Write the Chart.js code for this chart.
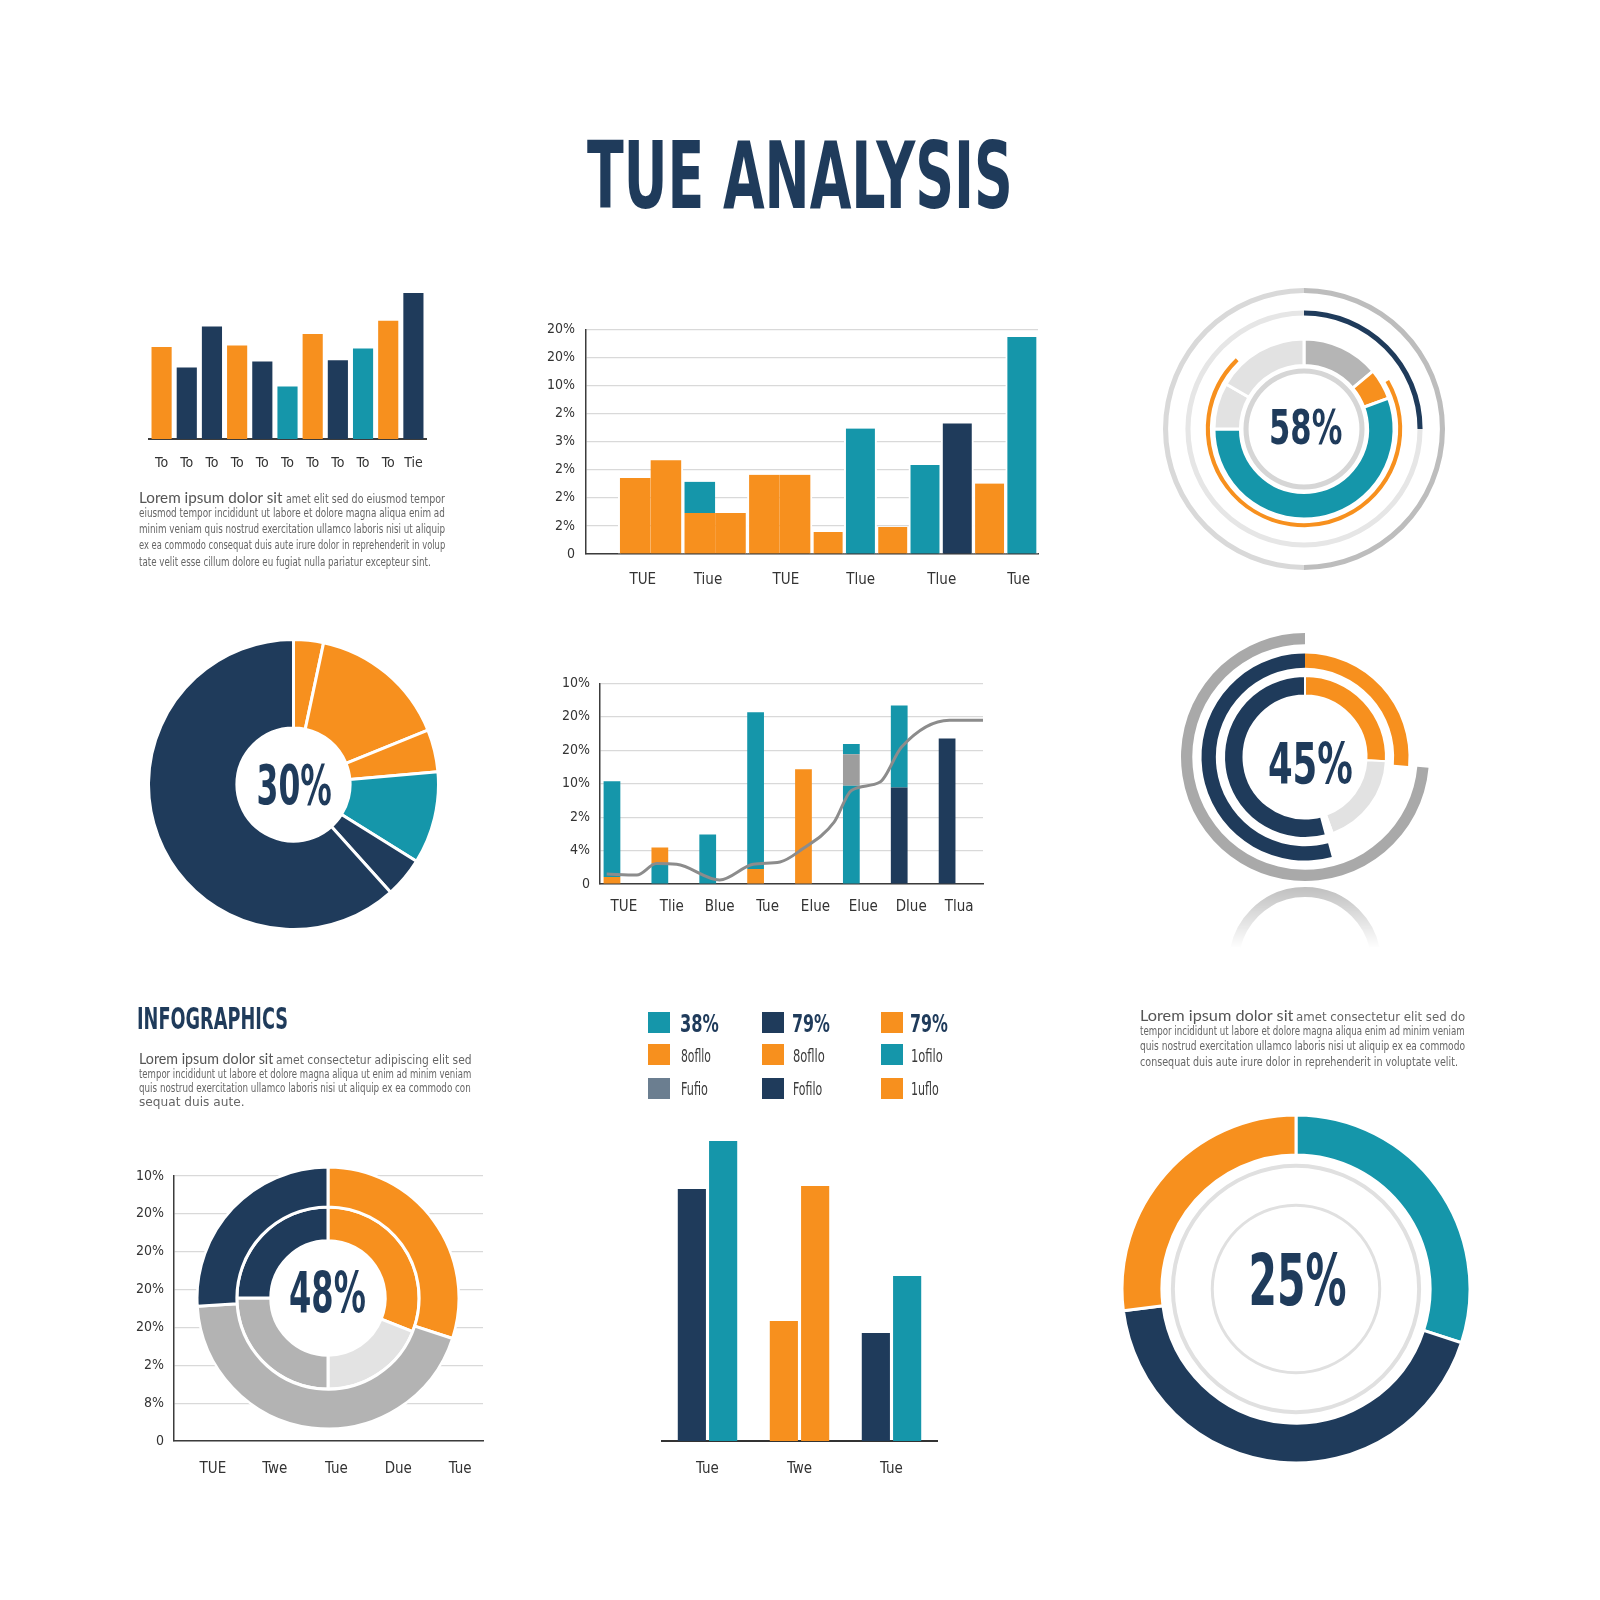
<!DOCTYPE html>
<html><head><meta charset="utf-8">
<script src="https://cdn.jsdelivr.net/npm/chart.js@4.4.1/dist/chart.umd.min.js"></script>
<style>
html,body{margin:0;padding:0;background:#fff;}
#page{position:relative;width:1600px;height:1600px;overflow:hidden;background:#fff;}
canvas{position:absolute;}
.t{position:absolute;white-space:nowrap;line-height:1;z-index:3;font-family:'Liberation Sans Narrow','DejaVu Sans Condensed',sans-serif;}
.big{font-weight:700;color:#1f3b5b;}
.para{color:#666;}
.lead{font-family:'Lato','Open Sans',sans-serif;color:#555;}
.leg{color:#3a3a3a;}
.sq{position:absolute;width:22px;height:21px;z-index:3;}
.refl{position:absolute;left:1200px;top:884px;width:210px;height:64px;overflow:hidden;
 -webkit-mask-image:linear-gradient(to bottom,rgba(0,0,0,.6),rgba(0,0,0,0));mask-image:linear-gradient(to bottom,rgba(0,0,0,.6),rgba(0,0,0,0));}
.refl div{position:absolute;left:29px;top:3px;width:132px;height:132px;border-radius:50%;border:10px solid #8f8f8f;}
</style></head>
<body><div id="page">
<div class="t big" data-cx="800" data-cy="176" data-fs="93" data-w="426">TUE ANALYSIS</div>

<div class="t lead" data-left="139" data-cy="497" data-fs="15" data-w="143">Lorem ipsum dolor sit</div>
<div class="t para" data-left="286" data-cy="498" data-fs="13" data-w="159">amet elit sed do eiusmod tempor</div>
<div class="t para" data-left="139" data-cy="512" data-fs="13" data-w="306">eiusmod tempor incididunt ut labore et dolore magna aliqua enim ad</div>
<div class="t para" data-left="139" data-cy="528" data-fs="13" data-w="306">minim veniam quis nostrud exercitation ullamco laboris nisi ut aliquip</div>
<div class="t para" data-left="139" data-cy="544" data-fs="13" data-w="306">ex ea commodo consequat duis aute irure dolor in reprehenderit in volup</div>
<div class="t para" data-left="139" data-cy="561" data-fs="13" data-w="292">tate velit esse cillum dolore eu fugiat nulla pariatur excepteur sint.</div>

<div class="t big" data-left="137" data-cy="1019" data-fs="30" data-w="151">INFOGRAPHICS</div>
<div class="t lead" data-left="139" data-cy="1058" data-fs="15" data-w="134">Lorem ipsum dolor sit</div>
<div class="t para" data-left="276" data-cy="1059" data-fs="13" data-w="196">amet consectetur adipiscing elit sed</div>
<div class="t para" data-left="139" data-cy="1073" data-fs="13" data-w="332">tempor incididunt ut labore et dolore magna aliqua ut enim ad minim veniam</div>
<div class="t para" data-left="139" data-cy="1087" data-fs="13" data-w="332">quis nostrud exercitation ullamco laboris nisi ut aliquip ex ea commodo con</div>
<div class="t para" data-left="139" data-cy="1101" data-fs="13" data-w="106">sequat duis aute.</div>

<div class="t lead" data-left="1140" data-cy="1015" data-fs="15" data-w="153">Lorem ipsum dolor sit</div>
<div class="t para" data-left="1296" data-cy="1016" data-fs="13" data-w="169">amet consectetur elit sed do</div>
<div class="t para" data-left="1140" data-cy="1030" data-fs="13" data-w="325">tempor incididunt ut labore et dolore magna aliqua enim ad minim veniam</div>
<div class="t para" data-left="1140" data-cy="1045" data-fs="13" data-w="325">quis nostrud exercitation ullamco laboris nisi ut aliquip ex ea commodo</div>
<div class="t para" data-left="1140" data-cy="1061" data-fs="13" data-w="318">consequat duis aute irure dolor in reprehenderit in voluptate velit.</div>

<div class="t big" data-cx="1305" data-cy="427" data-fs="48" data-w="73">58%</div>
<div class="t big" data-cx="294" data-cy="785" data-fs="55" data-w="75">30%</div>
<div class="t big" data-cx="1310" data-cy="764" data-fs="57" data-w="85">45%</div>
<div class="t big" data-cx="327" data-cy="1293" data-fs="57" data-w="77">48%</div>
<div class="t big" data-cx="1297" data-cy="1280" data-fs="71" data-w="98">25%</div>

<div class="sq" style="left:648px;top:1012px;background:#1596aa"></div>
<div class="sq" style="left:762px;top:1012px;background:#1f3b5b"></div>
<div class="sq" style="left:881px;top:1012px;background:#f7901e"></div>
<div class="sq" style="left:648px;top:1044px;background:#f7901e"></div>
<div class="sq" style="left:762px;top:1044px;background:#f7901e"></div>
<div class="sq" style="left:881px;top:1044px;background:#1596aa"></div>
<div class="sq" style="left:648px;top:1078px;background:#6b7e90"></div>
<div class="sq" style="left:762px;top:1078px;background:#1f3b5b"></div>
<div class="sq" style="left:881px;top:1078px;background:#f7901e"></div>
<div class="t big" data-left="680" data-cy="1023" data-fs="25" data-w="39">38%</div>
<div class="t big" data-left="792" data-cy="1023" data-fs="25" data-w="38">79%</div>
<div class="t big" data-left="910" data-cy="1023" data-fs="25" data-w="38">79%</div>
<div class="t leg" data-left="681" data-cy="1056" data-fs="18" data-w="30">8ofllo</div>
<div class="t leg" data-left="793" data-cy="1056" data-fs="18" data-w="32">8ofllo</div>
<div class="t leg" data-left="911" data-cy="1056" data-fs="18" data-w="32">1ofilo</div>
<div class="t leg" data-left="681" data-cy="1089" data-fs="18" data-w="27">Fufio</div>
<div class="t leg" data-left="793" data-cy="1089" data-fs="18" data-w="29">Fofilo</div>
<div class="t leg" data-left="911" data-cy="1089" data-fs="18" data-w="28">1uflo</div>

<div class="refl"><div></div></div>
</div>
<script>
// ---------- data ----------
const P1_LABELS = ['To','To','To','To','To','To','To','To','To','To','Tie'];
const P1_VALUES = [63,49,77,64,53,36,72,54,62,81,100];

const P2_SLOTS  = ['','1','2','3','4','5','6','7','8','9','10','11','12','13'];
const P2_ORANGE = [0,2.71,3.34,1.46,1.46,2.82,2.82,0.78,0,0.96,0,0,2.51,0];
const P2_TEAL   = [0,0,0,1.11,0,0,0,0,4.47,0,3.17,0,0,7.73];
const P2_NAVY   = [0,0,0,0,0,0,0,0,0,0,0,4.65,0,0];
const P2_Y_LABELS = ['0','2%','2%','2%','3%','2%','10%','20%','20%'];
const P2_X_LABELS = ['TUE','Tiue','TUE','Tlue','Tlue','Tue'];
const P2_X_POS    = [1.76,3.78,6.19,8.51,11.02,13.4];

const P3_OUTER  = [50,50];
const P3_NAVY   = [25,75];
const P3_ORANGE = [60,256,44];
const P3_SEG    = [50,20,200,30,60];
const P3_INNER  = [100];
const RING_GAP  = [1];

const P4_VALUES = [12,56,17,37,16,222];

const P5_LABELS = ['TUE','Tlie','Blue','Tue','Elue','Elue','Dlue','Tlua'];
const P5_Y_LABELS = ['0','4%','2%','10%','20%','20%','10%'];
const P5_ORANGE_BASE = [0.21,0,0,0.45,3.43,0,0,0];
const P5_TEAL_BASE   = [2.86,0.61,1.48,4.69,0,2.94,0,0];
const P5_NAVY_BASE   = [0,0,0,0,0,0,2.89,4.35];
const P5_ORANGE_TOP  = [0,0.48,0,0,0,0,0,0];
const P5_GRAY_MID    = [0,0,0,0,0,0.94,0,0];
const P5_TEAL_TOP    = [0,0,0,0,0,0.31,2.45,0];
const P5_LINE_X = [0.14,0.77,1.18,1.6,2.5,3.2,3.76,4.21,4.89,5.25,5.85,6.3,7.3,8.0];
const P5_LINE_Y = [0.30,0.27,0.61,0.59,0.12,0.59,0.66,1.03,1.85,2.8,3.05,4.1,4.9,4.9];

const P6_RING1 = [95,265];
const P6_RING2 = [95,70,195];
const P6_RING3 = [93,67,5,195];

const P7_X_LABELS = ['TUE','Twe','Tue','Due','Tue'];
const P7_Y_LABELS = ['0','8%','2%','20%','20%','20%','20%','10%'];
const P7_OUTER = [30,44,26];
const P7_INNER = [31,19,25,25];

const P8_LABELS = ['Tue','Twe','Tue'];
const P8_FIRST  = [84,40,36];
const P8_SECOND = [100,85,55];

const P9_VALUES = [30,43,27];
const P9_THIN   = [100];

// ---------- styles ----------
const NAVY='#1f3b5b', ORANGE='#f7901e', TEAL='#1596aa', GRAY='#b3b3b3', LGRAY='#e3e3e3';
const FONT = "'Liberation Sans Narrow','DejaVu Sans Condensed',sans-serif";
const AX = '#3c3c3c', GRID = '#d9d9d9';
Chart.defaults.font.family = FONT;
Chart.defaults.color = '#333';
Chart.defaults.animation = false;
Chart.defaults.responsive = false;
Chart.defaults.maintainAspectRatio = false;
Chart.defaults.plugins.legend.display = false;
Chart.defaults.plugins.tooltip.enabled = false;
Chart.defaults.events = [];

function mk(left, top, w, h){
  const c = document.createElement('canvas');
  c.width = w; c.height = h;
  c.style.left = left+'px'; c.style.top = top+'px';
  c.style.width = w+'px'; c.style.height = h+'px';
  document.getElementById('page').appendChild(c);
  return c;
}
const fixW = w => s => { s.width = w; };
const fixH = h => s => { s.height = h; };

// Panel 1
new Chart(mk(140,285,295,184), {
  type:'bar',
  data:{labels:P1_LABELS, datasets:[{data:P1_VALUES,
    backgroundColor:[ORANGE,NAVY,NAVY,ORANGE,NAVY,TEAL,ORANGE,NAVY,TEAL,ORANGE,NAVY],
    barPercentage:0.8, categoryPercentage:1}]},
  options:{layout:{padding:{left:9,right:9,top:8}},
    scales:{y:{display:false,min:0,max:100},
      x:{grid:{display:false}, border:{display:true,color:AX,width:2},
         ticks:{font:{size:14},padding:8}, afterFit:fixH(30)}}}
});

// Panel 2
const P2_JOINED = [false,false,true,false,true,false,true,false,false,false,false,false,false,false];
const p2bw = c => ({top:0,bottom:0,left:P2_JOINED[c.dataIndex]?0:2,right:P2_JOINED[c.dataIndex+1]?0:2});
new Chart(mk(540,310,510,280), {
  type:'bar',
  data:{labels:P2_SLOTS, datasets:[
    {data:P2_ORANGE, backgroundColor:ORANGE},
    {data:P2_TEAL, backgroundColor:TEAL},
    {data:P2_NAVY, backgroundColor:NAVY}
  ].map(d=>Object.assign(d,{barPercentage:1,categoryPercentage:1,borderColor:'#fff',borderWidth:p2bw,borderSkipped:false}))},
  options:{layout:{padding:{right:12,top:13}},
    scales:{
      x:{display:false, stacked:true},
      xl:{type:'linear', position:'bottom', min:0, max:14, offset:false, grid:{display:false, offset:false},
        border:{display:true,color:AX,width:1.5},
        afterBuildTicks:s=>{ s.ticks = P2_X_POS.map(v=>({value:v})); },
        ticks:{callback:(v,i)=>P2_X_LABELS[i], font:{size:15}, padding:9, autoSkip:false, maxRotation:0},
        afterFit:fixH(36)},
      y:{stacked:true, min:0, max:8,
        ticks:{stepSize:1, callback:(v,i)=>P2_Y_LABELS[i], font:{size:14}, padding:11},
        grid:{color:GRID, lineWidth:1.2, drawTicks:false},
        border:{display:true,color:AX,width:1.5}, afterFit:fixW(46)}
    }}
});

// Panel 3
const gap = w => ({data:RING_GAP, backgroundColor:'rgba(0,0,0,0)', borderWidth:0, weight:w});
new Chart(mk(1159,284,290,290), {
  type:'doughnut',
  data:{datasets:[
    {data:P3_OUTER, backgroundColor:['#bdbdbd','#d9d9d9'], borderWidth:0, weight:5},
    gap(17),
    {data:P3_NAVY, backgroundColor:[NAVY,'#e6e6e6'], borderWidth:0, weight:5},
    gap(15),
    {data:P3_ORANGE, backgroundColor:['rgba(0,0,0,0)',ORANGE,'rgba(0,0,0,0)'], borderWidth:0, weight:4},
    gap(4),
    {data:P3_SEG, backgroundColor:['#b5b5b5',ORANGE,TEAL,'#e2e2e2','#e2e2e2'], borderColor:'#fff', borderWidth:3, weight:26},
    gap(3),
    {data:P3_INNER, backgroundColor:'#d6d6d6', borderWidth:0, weight:5}
  ]},
  options:{radius:141, cutout:57}
});

// Panel 4
new Chart(mk(146,637,295,295), {
  type:'doughnut',
  data:{datasets:[{data:P4_VALUES, backgroundColor:[ORANGE,ORANGE,ORANGE,TEAL,NAVY,NAVY], borderColor:'#fff', borderWidth:3}]},
  options:{radius:145, cutout:57}
});

// Panel 5
const p5bar = (data,color) => ({type:'bar', data, backgroundColor:color, barPercentage:0.7, categoryPercentage:1, borderWidth:0, order:1});
new Chart(mk(555,665,440,250), {
  type:'bar',
  data:{labels:P5_LABELS, datasets:[
    p5bar(P5_ORANGE_BASE,ORANGE), p5bar(P5_TEAL_BASE,TEAL), p5bar(P5_NAVY_BASE,NAVY),
    p5bar(P5_ORANGE_TOP,ORANGE), p5bar(P5_GRAY_MID,'#9d9d9d'), p5bar(P5_TEAL_TOP,TEAL),
    {type:'line', xAxisID:'xL', stack:'line', order:0,
     data:P5_LINE_X.map((x,i)=>({x, y:P5_LINE_Y[i]})),
     borderColor:'#8c8c8c', borderWidth:3, pointRadius:0, cubicInterpolationMode:'monotone', fill:false}
  ]},
  options:{layout:{padding:{right:12,top:17}},
    scales:{
      x:{stacked:true, grid:{display:false}, border:{display:true,color:AX,width:1.5},
         ticks:{font:{size:15}, padding:6}, afterFit:fixH(31)},
      xL:{type:'linear', display:false, min:0, max:8, offset:false},
      y:{stacked:true, min:0, max:6,
        ticks:{stepSize:1, callback:(v,i)=>P5_Y_LABELS[i], font:{size:14}, padding:10},
        grid:{color:GRID, lineWidth:1.2, drawTicks:false},
        border:{display:true,color:AX,width:1.5}, afterFit:fixW(45)}
    }}
});

// Panel 6
new Chart(mk(1178,630,254,254), {
  type:'doughnut',
  data:{datasets:[
    {data:P6_RING1, backgroundColor:['rgba(0,0,0,0)','#a9a9a9'], borderWidth:0, weight:11},
    gap(9),
    {data:P6_RING2, backgroundColor:[ORANGE,'rgba(0,0,0,0)',NAVY], borderWidth:0, weight:14},
    gap(8),
    {data:P6_RING3, backgroundColor:[ORANGE,'#e2e2e2','rgba(0,0,0,0)',NAVY], borderColor:'#fff', borderWidth:2, weight:19}
  ]},
  options:{radius:124, cutout:63}
});

// Panel 7 grid + doughnut
new Chart(mk(130,1150,365,330), {
  type:'bar',
  data:{labels:P7_X_LABELS, datasets:[]},
  options:{layout:{padding:{right:12,top:26}},
    scales:{
      x:{grid:{display:false}, border:{display:true,color:AX,width:1.5},
         ticks:{font:{size:15}, padding:11, labelOffset:8}, afterFit:fixH(39)},
      y:{min:0, max:7, ticks:{stepSize:1, callback:(v,i)=>P7_Y_LABELS[i], font:{size:14}, padding:10},
        grid:{color:GRID, lineWidth:1.2, drawTicks:false},
        border:{display:true,color:AX,width:1.5}, afterFit:fixW(44)}
    }}
});
const c7 = mk(196,1166,264,264);
c7.style.borderRadius = '50%'; c7.style.background = '#fff';
new Chart(c7, {
  type:'doughnut',
  data:{datasets:[
    {data:P7_OUTER, backgroundColor:[ORANGE,GRAY,NAVY], borderColor:'#fff', borderWidth:3, weight:40},
    {data:P7_INNER, backgroundColor:[ORANGE,LGRAY,GRAY,NAVY], borderColor:'#fff', borderWidth:3, weight:34}
  ]},
  options:{radius:131, cutout:57}
});

// Panel 8
new Chart(mk(652,1130,296,345), {
  type:'bar',
  data:{labels:P8_LABELS, datasets:[
    {data:P8_FIRST, backgroundColor:[NAVY,ORANGE,NAVY]},
    {data:P8_SECOND, backgroundColor:[TEAL,ORANGE,TEAL]}
  ].map(d=>Object.assign(d,{barPercentage:0.9,categoryPercentage:0.68}))},
  options:{layout:{padding:{left:9.5,right:10.5,top:11}},
    scales:{y:{display:false,min:0,max:100},
      x:{grid:{display:false}, border:{display:true,color:'#333',width:2},
         ticks:{font:{size:15}, padding:11}, afterFit:fixH(34)}}}
});

// Panel 9
new Chart(mk(1121,1114,350,350), {
  type:'doughnut',
  data:{datasets:[
    {data:P9_VALUES, backgroundColor:[TEAL,NAVY,ORANGE], borderColor:'#fff', borderWidth:3, weight:40},
    gap(9),
    {data:P9_THIN, backgroundColor:'#e0e0e0', borderWidth:0, weight:4},
    gap(36),
    {data:P9_THIN, backgroundColor:'#e0e0e0', borderWidth:0, weight:3}
  ]},
  options:{radius:174, cutout:82}
});

// ---------- text placement ----------
document.querySelectorAll('.t').forEach(el=>{
  const fs = +el.dataset.fs, cy = +el.dataset.cy, w = +el.dataset.w;
  el.style.fontSize = fs+'px';
  const ow = el.offsetWidth;
  const k = w/ow;
  el.style.top = (cy - fs*0.5)+'px';
  if (el.dataset.cx){ el.style.left = (+el.dataset.cx - ow/2)+'px'; el.style.transformOrigin='50% 50%'; }
  else { el.style.left = el.dataset.left+'px'; el.style.transformOrigin='0 50%'; }
  el.style.transform = 'scaleX('+k.toFixed(4)+')';
});
</script>
</body></html>
